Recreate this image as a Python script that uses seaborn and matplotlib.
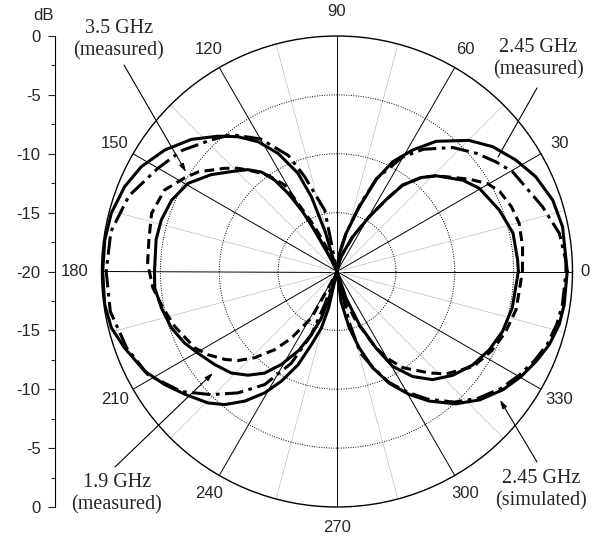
import numpy as np
import pandas as pd
import matplotlib
matplotlib.use('Agg')
import matplotlib.pyplot as plt
from matplotlib.ticker import FixedLocator
import seaborn as sns

# pattern values: angle (deg) and level (dB), -20 = centre
sim_245_deg = [0, 11.2, 18.3, 25.5, 31.9, 38.7, 44.8, 52.7, 58.1, 63.1, 66.9, 71, 76.7, 82.7, 88,
               100, 106.5, 108.9, 111.7, 116.5, 121.3, 126.3, 131.3, 137.8, 144.8, 151.8, 158.2, 165.5, 172.3,
               180, 188.1, 194, 199.8, 207.4, 213.3, 218.9, 225.5, 229.8, 234.6, 239.2, 243.1, 247.3, 250.7,
               254.5, 257, 262, 272, 277.6, 282.3, 286.3, 290.3, 295.1, 300.4, 305.4, 311.9, 318, 324.5,
               330.3, 335.7, 341, 346.6, 351.7]
sim_245_db = [-0.45, -0.47, -0.7, -1.3, -2.1, -3.05, -4.2, -6.1, -7.85, -9.55, -11.5, -14.2, -16.7, -18.5, -20,
              -20, -16.5, -13.3, -11.0, -8.8, -7.1, -5.8, -4.7, -3.3, -2.1, -1.15, -0.58, -0.2, -0.1,
              -0.1, -0.07, -0.25, -0.83, -1.6, -2.5, -3.4, -4.35, -5.2, -6.5, -8.0, -9.55, -11.4, -13.4,
              -15.0, -16.8, -20, -20, -17.4, -15.1, -13.2, -11.3, -9.5, -7.9, -6.5, -4.9, -3.7, -2.7,
              -2.0, -1.45, -0.93, -0.6, -0.5]

meas_245_deg = [0, 2.9, 9.7, 17.5, 29.6, 34.6, 40.4, 47, 54.8, 60.2, 66.9, 71, 76.7, 82.7, 88,
                95, 101.3, 108.8, 112.8, 120, 127.7, 134, 142, 150, 160, 170,
                180, 190, 200, 208.6, 217.6, 224.4, 230.8, 237.4, 243.5, 247.9, 249.6, 252,
                278, 283.5, 286, 290.3, 295.1, 300.4, 305.4, 311.9, 318, 324.5, 330.3, 335.7, 341, 346.6, 351.7]
meas_245_db = [-0.55, -0.55, -0.84, -1.7, -2.85, -3.6, -4.5, -5.6, -7.3, -8.8, -11.4, -14.0, -16.7, -18.5, -20,
               -20, -14.7, -11.5, -9.3, -7.0, -5.3, -4.5, -3.3, -2.45, -1.2, -0.5,
               -0.4, -0.45, -1.0, -1.7, -3.3, -5.05, -6.7, -8.6, -11.3, -14.2, -17.0, -20,
               -20, -15.5, -12.8, -11.4, -9.6, -8.1, -6.7, -5.1, -3.9, -2.9, -2.2, -1.6, -1.1, -0.8, -0.65]

meas_35_deg = [0, 7.6, 14.8, 20.4, 26.2, 30.3, 34.9, 39.2, 44, 48.2, 52.8, 55.6, 59.5, 65.8, 75, 80,
               110, 112.7, 116.5, 119.8, 121.2, 125.5, 129.5, 133.8, 137.4, 144.3, 148.5, 154.7, 162.6, 170.5, 177.5,
               185, 191.8, 198.7, 208.3, 212.8, 218.1, 222, 226.4, 231.4, 235.5, 241.1, 242, 243,
               283, 286.8, 290.9, 294.7, 297, 300.7, 304.4, 312.3, 316.8, 325, 332.8, 340, 348]
meas_35_db = [-4.25, -4.1, -4.0, -4.2, -4.6, -5.2, -6.3, -7.35, -8.3, -9.3, -10.8, -12.6, -14.6, -16.8, -18.7, -20,
              -20, -18.0, -15.75, -13.3, -11.4, -10.0, -9.0, -7.85, -7.05, -5.5, -4.8, -3.8, -3.5, -3.8, -3.9,
              -4.3, -4.9, -5.45, -6.3, -6.96, -7.9, -8.7, -9.9, -11.5, -13.1, -15.5, -18.4, -20,
              -20, -17.35, -15.5, -14.1, -12.7, -11.3, -10.1, -8.35, -7.3, -5.9, -5.25, -4.8, -4.45]

meas_19_deg = [0, 3.6, 12.3, 20.7, 30.3, 36, 44, 48.2, 52.8, 55.6, 59.5, 65.8, 75, 80,
               113, 116, 118.3, 120, 122, 124.3, 127.2, 131.2, 136.6, 142.5, 149.4, 156.7, 163.7, 170,
               180, 185.2, 191.7, 198.8, 205.1, 210.4, 217.3, 223.8, 229.4, 234.5, 239.1, 244, 247.9,
               251.4, 253.2, 256, 285, 288.8, 292.8, 297, 300.4, 305.8, 311.5, 318.1, 325.5, 332.8,
               340.1, 348.3]
meas_19_db = [-4.6, -4.63, -4.7, -5.26, -6.0, -6.8, -8.3, -9.3, -10.8, -12.6, -14.6, -16.8, -18.7, -20,
              -20, -18.5, -16.0, -14.0, -12.2, -10.6, -9.4, -8.5, -7.65, -6.5, -5.3, -4.7, -4.45, -4.4,
              -4.5, -4.46, -4.77, -5.14, -5.7, -6.3, -6.95, -7.55, -8.4, -9.4, -10.8, -12.5, -14.2,
              -15.8, -17.35, -20, -20, -17.6, -15.1, -12.7, -10.66, -9.0, -7.74, -6.8, -6.0, -5.46,
              -5.05, -4.8]

curve_names = ['2.45 GHz (simulated)', '2.45 GHz (measured)',
               '3.5 GHz (measured)', '1.9 GHz (measured)']
theta_labels = list(range(0, 360, 30))
ring_levels = [-15, -10, -5]

sns.set_style('white')
plt.rcParams['font.family'] = ['Liberation Sans', 'DejaVu Sans']
serif = ['Liberation Serif', 'DejaVu Serif']

W, H = 611, 538
cx, cy, R = 337, 271.5, 235.5
fig = plt.figure(figsize=(W / 100, H / 100), dpi=100)
ax = fig.add_axes([(cx - R) / W, 1 - (cy + R) / H, 2 * R / W, 2 * R / H],
                  projection='polar')

series = [(sim_245_deg, sim_245_db), (meas_245_deg, meas_245_db),
          (meas_35_deg, meas_35_db), (meas_19_deg, meas_19_db)]
rows = []
for name, (degs, vals) in zip(curve_names, series):
    # close the loop back at 360 deg
    for a, v in zip(degs + [360], vals + [vals[0]]):
        rows.append({'theta': np.deg2rad(a), 'db': v, 'curve': name})
df = pd.DataFrame(rows)

dashes = {
    '2.45 GHz (simulated)': '',
    '2.45 GHz (measured)': (6, 1.8, 1.2, 1.8),
    '3.5 GHz (measured)': (3.2, 1.8),
    '1.9 GHz (measured)': '',
}
sns.lineplot(data=df, x='theta', y='db', hue='curve', style='curve',
             hue_order=curve_names, style_order=curve_names,
             palette={n: 'black' for n in curve_names}, dashes=dashes,
             sort=False, estimator=None, errorbar=None, legend=False,
             lw=2.2, ax=ax)

ax.set_ylim(-20, 0)
ax.set_xticks(np.deg2rad(theta_labels))
ax.set_xticklabels([])
ax.xaxis.set_minor_locator(FixedLocator(np.deg2rad(np.arange(15, 360, 30))))
ax.set_yticks(ring_levels)
ax.set_yticklabels([])
ax.xaxis.grid(True, which='major', color='black', lw=0.7, ls='-')
ax.xaxis.grid(True, which='minor', color='#c0c0c0', lw=0.5, ls='-')
ax.yaxis.grid(True, color='black', lw=0.7, ls=(0, (1, 1.5)))
ax.tick_params(which='both', length=0)
ax.spines['polar'].set(color='black', lw=1.0)
ax.set_xlabel('')
ax.set_ylabel('')

# angle labels around the circle
for deg in theta_labels:
    off = {0: 12.5, 90: 25, 180: 26.5}.get(deg, 21)
    r = -20 + 20 * (R + off) / R
    ax.text(np.deg2rad(deg), r, str(deg), ha='center', va='center',
            fontsize=12, clip_on=False)

# linear dB scale on the left
lax = fig.add_axes([54.5 / W, 1 - (cy + R) / H, 0.0001, 2 * R / H])
lax.patch.set_visible(False)
lax.set_ylim(-20, 20)
for s in ['top', 'right', 'bottom']:
    lax.spines[s].set_visible(False)
lax.spines['left'].set(color='black', lw=0.8)
lax.set_xticks([])
ticks = list(range(-20, 21, 5))
lax.set_yticks(ticks)
lax.set_yticklabels([str(abs(p) - 20) for p in ticks])
lax.yaxis.set_minor_locator(FixedLocator(np.arange(-17.5, 20, 5)))
lax.tick_params(axis='y', which='major', left=True, length=5, width=0.8,
                pad=5, labelsize=12)
lax.tick_params(axis='y', which='minor', left=True, length=3, width=0.8)
fig.text(43 / W, 1 - 15 / H, 'dB', ha='center', va='center', fontsize=12)

# curve labels with leader lines
notes = [
    ('3.5 GHz\n(measured)', (119, 40), (124, 65), (186, 172), True),
    ('2.45 GHz\n(measured)', (538, 58.5), (537, 88), (498, 157), False),
    ('1.9 GHz\n(measured)', (117, 494), (115, 467), (213, 373), True),
    ('2.45 GHz\n(simulated)', (541, 489.5), (537, 462), (500, 400), True),
]
for txt, (tx, ty), (sx, sy), (ex, ey), head in notes:
    fig.text(tx / W, 1 - ty / H, txt, ha='center', va='center',
             fontsize=14.5, family=serif, linespacing=1.2)
    style = '-|>,head_length=0.5,head_width=0.15' if head else '-'
    ax.annotate('', xy=(ex, H - ey), xycoords='figure pixels',
                xytext=(sx, H - sy), textcoords='figure pixels',
                arrowprops=dict(arrowstyle=style, color='black', lw=0.8,
                                shrinkA=0, shrinkB=0))

fig.savefig('out.png', dpi=100)
